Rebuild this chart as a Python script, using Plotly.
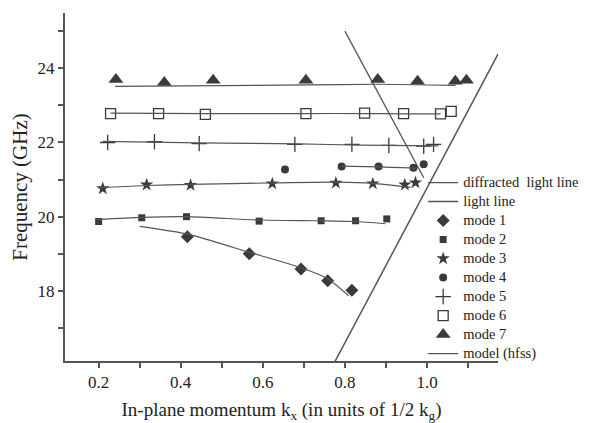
import plotly.graph_objects as go

# ---- data ----
mode1_x = [0.416, 0.567, 0.693, 0.758, 0.817]
mode1_y = [19.46, 19.00, 18.59, 18.27, 18.02]
mode2_x = [0.200, 0.305, 0.414, 0.591, 0.742, 0.826, 0.902]
mode2_y = [19.87, 19.97, 20.00, 19.88, 19.89, 19.89, 19.94]
mode3_x = [0.210, 0.317, 0.424, 0.623, 0.778, 0.868, 0.946, 0.972]
mode3_y = [20.76, 20.86, 20.85, 20.89, 20.91, 20.89, 20.86, 20.92]
mode4_x = [0.654, 0.792, 0.882, 0.967, 0.992]
mode4_y = [21.27, 21.35, 21.35, 21.32, 21.41]
mode5_x = [0.222, 0.336, 0.445, 0.678, 0.817, 0.907, 0.992, 1.016]
mode5_y = [22.00, 22.02, 21.97, 21.95, 21.95, 21.92, 21.90, 21.95]
mode6_x = [0.229, 0.346, 0.460, 0.705, 0.848, 0.943, 1.033, 1.059]
mode6_y = [22.78, 22.78, 22.76, 22.78, 22.79, 22.78, 22.77, 22.84]
mode7_x = [0.242, 0.360, 0.479, 0.705, 0.880, 0.977, 1.069, 1.096]
mode7_y = [23.70, 23.62, 23.68, 23.68, 23.70, 23.65, 23.65, 23.68]

model1_x = [0.300, 0.417, 0.567, 0.692, 0.759, 0.809]
model1_y = [19.74, 19.53, 19.04, 18.63, 18.32, 17.87]
model2_x = [0.195, 0.304, 0.413, 0.591, 0.742, 0.826, 0.899]
model2_y = [19.92, 19.98, 20.00, 19.91, 19.89, 19.87, 19.81]
model3_x = [0.198, 0.317, 0.424, 0.623, 0.778, 0.868, 0.960]
model3_y = [20.78, 20.84, 20.87, 20.91, 20.93, 20.90, 20.79]
model4_x = [0.792, 0.880, 0.967, 0.972]
model4_y = [21.36, 21.34, 21.31, 21.29]
model5_x = [0.210, 0.445, 0.688, 0.834, 1.028]
model5_y = [22.03, 21.99, 21.96, 21.93, 21.91]
model6_x = [0.229, 0.460, 0.705, 0.848, 0.943, 1.033]
model6_y = [22.79, 22.78, 22.78, 22.78, 22.77, 22.77]
model7_x = [0.240, 0.705, 0.880, 1.070]
model7_y = [23.51, 23.55, 23.57, 23.54]

light_x = [0.776, 1.174]
light_y = [16.10, 24.40]
diffr_x = [0.800, 0.992]
diffr_y = [25.00, 21.05]

x_ticks = [0.2, 0.4, 0.6, 0.8, 1.0]
x_ticklabels = ["0.2", "0.4", "0.6", "0.8", "1.0"]
y_ticks = [18, 20, 22, 24]
y_ticklabels = ["18", "20", "22", "24"]

MK = "#3a3a3a"
LN = "#555555"
SERIF = "Liberation Serif, Times New Roman, serif"


def leg(t):
    return '<span style="font-size:14.5px">' + t + '</span>'


fig = go.Figure()

fig.add_trace(go.Scatter(x=diffr_x, y=diffr_y, mode="lines", name=leg("diffracted&nbsp; light line"),
                         line=dict(color=LN, width=1.3)))
fig.add_trace(go.Scatter(x=light_x, y=light_y, mode="lines", name=leg("light line"),
                         line=dict(color=LN, width=1.5)))

modes = [
    ("mode 1", mode1_x, mode1_y, "diamond", 10),
    ("mode 2", mode2_x, mode2_y, "square", 7),
    ("mode 3", mode3_x, mode3_y, "star", 10),
    ("mode 4", mode4_x, mode4_y, "circle", 8),
    ("mode 5", mode5_x, mode5_y, "cross-thin-open", 11),
    ("mode 6", mode6_x, mode6_y, "square-open", 10),
    ("mode 7", mode7_x, mode7_y, "triangle-up", 13),
]
for name, xs, ys, sym, sz in modes:
    fig.add_trace(go.Scatter(x=xs, y=ys, mode="markers", name=leg(name),
                             marker=dict(symbol=sym, size=sz, color=MK,
                                         line=dict(color=MK, width=1.3 if "open" in sym else 0))))

models = [(model1_x, model1_y), (model2_x, model2_y), (model3_x, model3_y),
          (model4_x, model4_y), (model5_x, model5_y), (model6_x, model6_y),
          (model7_x, model7_y)]
for i, (xs, ys) in enumerate(models):
    fig.add_trace(go.Scatter(x=xs, y=ys, mode="lines", name=leg("model (hfss)"),
                             legendgroup="model", showlegend=(i == 0),
                             line=dict(color=LN, width=1.2, shape="spline", smoothing=0.6)))

axis_common = dict(
    showline=True, linecolor="#555555", linewidth=2, mirror=False,
    showgrid=False, zeroline=False, automargin=False,
    ticks="outside", ticklen=5, tickwidth=1.5, tickcolor="#555555",
    tickfont=dict(family=SERIF, size=17, color="#222222"),
)

# the page body adds an 8px offset; the figure is sized so the plot lands where the reference has it
fig.update_layout(
    width=581, height=415,
    margin=dict(l=57, r=89, t=5, b=62),
    paper_bgcolor="white", plot_bgcolor="white",
    font=dict(family=SERIF, color="#222222"),
    showlegend=True,
    legend=dict(x=1.199, y=0.5545, xanchor="right", yanchor="top",
                bgcolor="rgba(0,0,0,0)", borderwidth=0,
                font=dict(family=SERIF, size=12, color="#222222"),
                tracegroupgap=0, itemwidth=30),
    xaxis=dict(range=[0.118, 1.173], tickvals=x_ticks, ticktext=x_ticklabels,
               minor=dict(dtick=0.1, tick0=0.0, ticks="outside", ticklen=5,
                          tickwidth=1.5, tickcolor="#555555"),
               title=dict(text="In-plane momentum k<sub>x</sub> (in units of 1/2 k<sub>g</sub>)",
                          font=dict(family=SERIF, size=19, color="#222222"), standoff=12),
               **axis_common),
    yaxis=dict(range=[16.11, 25.49], tickvals=y_ticks, ticktext=y_ticklabels,
               minor=dict(dtick=1, tick0=0, ticks="outside", ticklen=5,
                          tickwidth=1.5, tickcolor="#555555"),
               title=dict(text="Frequency (GHz)",
                          font=dict(family=SERIF, size=21, color="#222222"), standoff=6),
               **axis_common),
)

fig.write_html("out.html")
